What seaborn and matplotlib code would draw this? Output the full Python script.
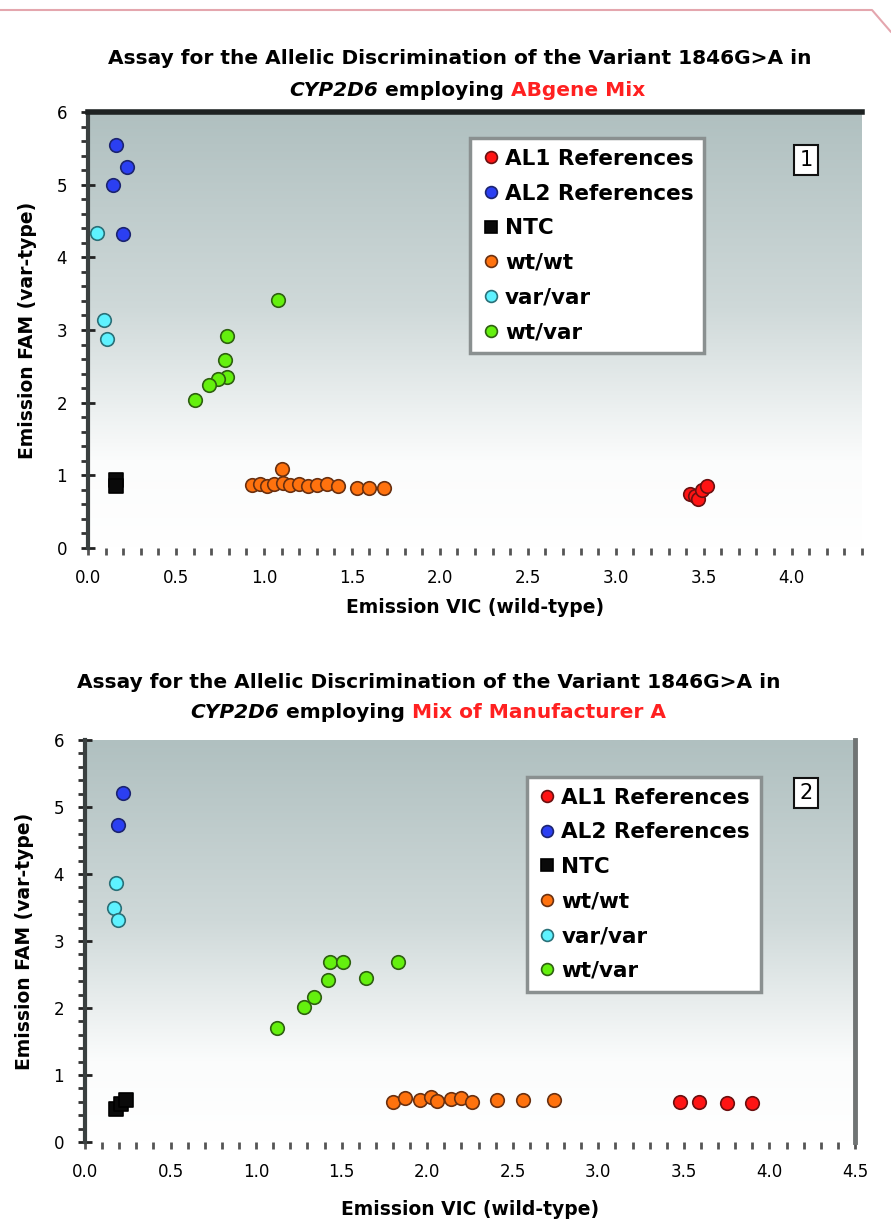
import numpy as np
import pandas as pd
import matplotlib
matplotlib.use("Agg")
import matplotlib.pyplot as plt
from matplotlib.lines import Line2D
from matplotlib.ticker import MultipleLocator
import seaborn as sns

# ---- data panel 1 (ABgene Mix) ----
p1_al1_x = [3.42, 3.45, 3.47, 3.49, 3.52]
p1_al1_y = [0.74, 0.72, 0.67, 0.80, 0.85]
p1_al2_x = [0.16, 0.14, 0.22, 0.20]
p1_al2_y = [5.54, 5.00, 5.24, 4.32]
p1_ntc_x = [0.16, 0.16]
p1_ntc_y = [0.94, 0.85]
p1_wtwt_x = [0.93, 0.98, 1.02, 1.06, 1.10, 1.11, 1.15, 1.20, 1.25, 1.30, 1.36, 1.42, 1.53, 1.60, 1.68]
p1_wtwt_y = [0.87, 0.88, 0.86, 0.88, 1.09, 0.90, 0.87, 0.88, 0.86, 0.87, 0.88, 0.86, 0.82, 0.83, 0.82]
p1_varvar_x = [0.05, 0.09, 0.11]
p1_varvar_y = [4.34, 3.14, 2.87]
p1_wtvar_x = [1.08, 0.79, 0.78, 0.79, 0.74, 0.69, 0.61]
p1_wtvar_y = [3.41, 2.92, 2.59, 2.36, 2.33, 2.25, 2.03]

# ---- data panel 2 (Mix of Manufacturer A) ----
p2_al1_x = [3.48, 3.59, 3.75, 3.90]
p2_al1_y = [0.60, 0.60, 0.58, 0.58]
p2_al2_x = [0.22, 0.19]
p2_al2_y = [5.21, 4.73]
p2_ntc_x = [0.18, 0.21, 0.24]
p2_ntc_y = [0.50, 0.56, 0.62]
p2_wtwt_x = [1.80, 1.87, 1.96, 2.02, 2.06, 2.14, 2.20, 2.26, 2.41, 2.56, 2.74]
p2_wtwt_y = [0.60, 0.66, 0.62, 0.67, 0.61, 0.64, 0.66, 0.59, 0.63, 0.63, 0.63]
p2_varvar_x = [0.18, 0.17, 0.19]
p2_varvar_y = [3.87, 3.49, 3.31]
p2_wtvar_x = [1.12, 1.28, 1.34, 1.42, 1.43, 1.51, 1.64, 1.83]
p2_wtvar_y = [1.70, 2.01, 2.16, 2.42, 2.69, 2.69, 2.45, 2.69]

groups = ["AL1 References", "AL2 References", "NTC", "wt/wt", "var/var", "wt/var"]
colors = ["#ff1414", "#2b3ff2", "#0a0a0a", "#ff720e", "#5ef2ff", "#64f00e"]
edges = ["#6a1010", "#1c2470", "#000000", "#6a3010", "#2a7078", "#2e6010"]
markers = ["o", "o", "s", "o", "o", "o"]


def frame(xs, ys):
    rows = []
    for g, x, y in zip(groups, xs, ys):
        for a, b in zip(x, y):
            rows.append({"x": a, "y": b, "group": g})
    return pd.DataFrame(rows)


df1 = frame([p1_al1_x, p1_al2_x, p1_ntc_x, p1_wtwt_x, p1_varvar_x, p1_wtvar_x],
            [p1_al1_y, p1_al2_y, p1_ntc_y, p1_wtwt_y, p1_varvar_y, p1_wtvar_y])
df2 = frame([p2_al1_x, p2_al2_x, p2_ntc_x, p2_wtwt_x, p2_varvar_x, p2_wtvar_x],
            [p2_al1_y, p2_al2_y, p2_ntc_y, p2_wtwt_y, p2_varvar_y, p2_wtvar_y])

sns.set_style("white")
plt.rcParams["font.family"] = ["DejaVu Sans"]
plt.rcParams["text.color"] = "black"
plt.rcParams["axes.labelcolor"] = "black"
plt.rcParams["xtick.labelcolor"] = "black"
plt.rcParams["ytick.labelcolor"] = "black"

W, H = 891, 1220
fig = plt.figure(figsize=(W / 100, H / 100), dpi=100)


def rect(l, t, r, b):
    return [l / W, 1 - b / H, (r - l) / W, (b - t) / H]


ax1 = fig.add_axes(rect(88, 112, 862, 548))
ax2 = fig.add_axes(rect(85, 740, 855, 1142))

grad = np.linspace(0, 1, 256).reshape(-1, 1)
cmap = matplotlib.colors.LinearSegmentedColormap.from_list(
    "bg", [(0, "#b0c0c0"), (0.45, "#cfd9d9"), (0.8, "#fbfcfc"), (1, "#ffffff")])


def style(ax, df, xmax, xlabel, ylabel, leg_anchor, num, num_pos, spines, xlpad):
    ax.imshow(grad, aspect="auto", cmap=cmap, extent=[0, 1, 0, 1],
              transform=ax.transAxes, zorder=0)
    for g, c, e, m in zip(groups, colors, edges, markers):
        sub = df[df["group"] == g]
        sns.scatterplot(data=sub, x="x", y="y", ax=ax, color=c, marker=m,
                        s=95, edgecolor=e, linewidth=1.2, zorder=3, legend=False)
    ax.set_xlim(0, xmax)
    ax.set_ylim(0, 6)
    ax.xaxis.set_major_locator(MultipleLocator(0.5))
    ax.xaxis.set_minor_locator(MultipleLocator(0.1))
    ax.yaxis.set_major_locator(MultipleLocator(1))
    ax.yaxis.set_minor_locator(MultipleLocator(0.2))
    ax.xaxis.set_major_formatter(matplotlib.ticker.FormatStrFormatter("%.1f"))
    ax.tick_params(bottom=True, left=True, which="both")
    ax.tick_params(axis="x", which="both", direction="out", length=5, width=2,
                   color="#555555", pad=10, labelsize=12)
    ax.tick_params(axis="y", which="major", direction="inout", length=10, width=2,
                   color="#222222", pad=10, labelsize=12)
    ax.tick_params(axis="y", which="minor", direction="out", length=5, width=2,
                   color="#333333")
    ax.set_xlabel(xlabel, fontsize=13.5, fontweight="bold", labelpad=xlpad)
    ax.set_ylabel(ylabel, fontsize=13.5, fontweight="bold", labelpad=14)
    for s in ["top", "bottom", "left", "right"]:
        ax.spines[s].set_visible(s in spines)
    ax.spines["left"].set_color("#3a4040")
    ax.spines["left"].set_linewidth(3)
    ax.spines["top"].set_color("#1e2222")
    ax.spines["top"].set_linewidth(4)
    ax.spines["right"].set_color("#707474")
    ax.spines["right"].set_linewidth(3.5)
    handles = [Line2D([], [], marker=m, color="none", markerfacecolor=c,
                      markeredgecolor=e, markersize=8.5, markeredgewidth=1.2)
               for c, e, m in zip(colors, edges, markers)]
    leg = ax.legend(handles, groups, loc="upper left", bbox_to_anchor=leg_anchor,
                    frameon=True, fancybox=False, handletextpad=0.2,
                    handlelength=0.9, labelspacing=0.68, borderpad=0.5,
                    borderaxespad=0, labelcolor="black",
                    prop={"weight": "bold", "size": 15.5})
    leg.get_frame().set_edgecolor("#8a9090")
    leg.get_frame().set_linewidth(2.5)
    leg.get_frame().set_facecolor("white")
    leg.get_frame().set_alpha(1)
    ax.text(num_pos[0], num_pos[1], num, transform=ax.transAxes, fontsize=15,
            ha="center", va="center", zorder=5,
            bbox=dict(boxstyle="square,pad=0.25", facecolor="white",
                      edgecolor="#111111", linewidth=1.5))


style(ax1, df1, 4.4, "Emission VIC (wild-type)", "Emission FAM (var-type)",
      (0.494, 0.94), "1", (0.928, 0.89), ["top", "left"], 8)
style(ax2, df2, 4.5, "Emission VIC (wild-type)", "Emission FAM (var-type)",
      (0.574, 0.908), "2", (0.936, 0.868), ["left", "right"], 14)

renderer = fig.canvas.get_renderer()


def rich_line(xc, y, pieces):
    texts = []
    for s, col, st in pieces:
        t = fig.text(0, 1 - y / H, s, color=col, fontsize=14.5, fontweight="bold",
                     fontstyle=st, ha="left", va="center")
        texts.append(t)
    widths = [t.get_window_extent(renderer).width for t in texts]
    x = xc - sum(widths) / 2
    for t, w in zip(texts, widths):
        t.set_x(x / W)
        x += w


rich_line(460, 58, [("Assay for the Allelic Discrimination of the Variant 1846G>A in", "black", "normal")])
rich_line(467, 90, [("CYP2D6", "black", "italic"), (" employing ", "black", "normal"),
                    ("ABgene Mix", "#ff2020", "normal")])
rich_line(429, 683, [("Assay for the Allelic Discrimination of the Variant 1846G>A in", "black", "normal")])
rich_line(428, 713, [("CYP2D6", "black", "italic"), (" employing ", "black", "normal"),
                     ("Mix of Manufacturer A", "#ff2020", "normal")])

# page edge decoration
fig.add_artist(Line2D([0, 872 / W, 1], [1 - 10 / H, 1 - 10 / H, 1 - 32 / H],
                      color="#e4a6ae", linewidth=1.5, transform=fig.transFigure))

fig.savefig("out.png", dpi=100)
